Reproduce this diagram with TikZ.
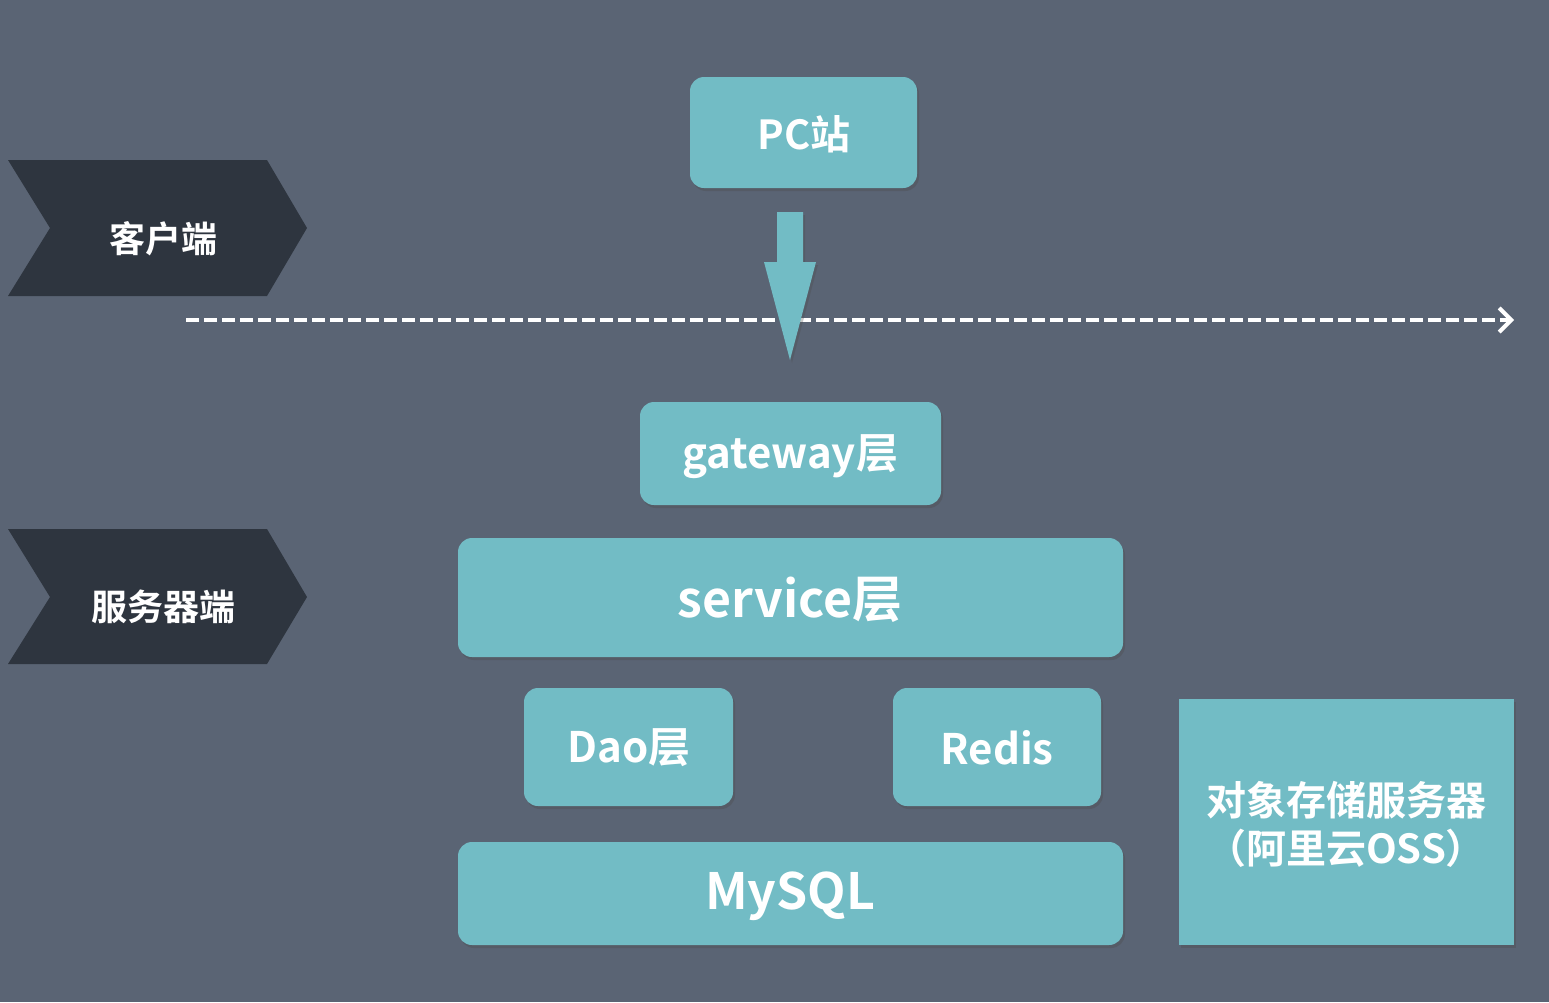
\documentclass[tikz,border=0pt]{standalone}
\usepackage{fontspec}
\setmainfont{Noto Sans CJK SC Bold}
\usetikzlibrary{shadows,arrows.meta}
\definecolor{bgc}{HTML}{5A6474}
\definecolor{teal}{HTML}{72BCC5}
\definecolor{darkc}{HTML}{2E353F}
\tikzset{
  box/.style={fill=teal, rounded corners=14pt, draw=none,
    drop shadow={shadow xshift=2pt, shadow yshift=-3pt, opacity=0.35, fill=black!70}},
  lbl/.style={text=white, font=\fontsize{40}{46}\selectfont, inner sep=0pt},
  banner/.style={fill=darkc, draw=none},
}
\begin{document}
\begin{tikzpicture}[x=1pt,y=-1pt]
\useasboundingbox (0,0) rectangle (1549,1002);
\fill[bgc] (0,0) rectangle (1549,1002);
% banners
\fill[banner] (8,160) -- (267,160) -- (307,228) -- (267,296) -- (8,296) -- (50,228) -- cycle;
\node[lbl, font=\fontsize{36}{40}\selectfont] (client) at (163,239) {客户端};
\fill[banner] (8,529) -- (267,529) -- (307,597) -- (267,664) -- (8,664) -- (50,597) -- cycle;
\node[lbl, font=\fontsize{36}{40}\selectfont] (server) at (163,607) {服务器端};
% dashed line
\coordinate (dl) at (186,320);
\coordinate (dr) at (1514,320);
\draw[white, line width=3.5pt, dash pattern=on 13pt off 5pt, -{Straight Barb[length=12pt,width=24pt,line width=4pt]}] (dl) -- (dr);
% boxes
\path[box] (690,77) rectangle (917,188);
\node[lbl] (pc) at (804,134) {PC站};
\path[box] (640,402) rectangle (941,505);
\node[lbl, font=\fontsize{42}{46}\selectfont] (gw) at (790,457) {gateway层};
\path[box] (458,538) rectangle (1123,657);
\node[lbl, font=\fontsize{50}{56}\selectfont] (svc) at (790,600) {service层};
\path[box] (524,688) rectangle (733,806);
\node[lbl, font=\fontsize{42}{46}\selectfont] (dao) at (629,748) {Dao层};
\path[box] (893,688) rectangle (1101,806);
\node[lbl, font=\fontsize{42}{46}\selectfont] (redis) at (997,748) {Redis};
\path[box] (458,842) rectangle (1123,945);
\node[lbl, font=\fontsize{50}{56}\selectfont] (mysql) at (790,896) {MySQL};
\path[box, rounded corners=0pt] (1179,699) rectangle (1514,945);
\node[lbl, font=\fontsize{40}{48}\selectfont, align=center] (oss) at (1346,824) {对象存储服务器\\（阿里云OSS）};
% down arrow
\fill[teal, drop shadow={shadow xshift=2pt, shadow yshift=-3pt, opacity=0.3, fill=black!70}]
  (777,212) -- (803,212) -- (803,262) -- (816,262) -- (790,360) -- (764,262) -- (777,262) -- cycle;
\end{tikzpicture}
\end{document}
